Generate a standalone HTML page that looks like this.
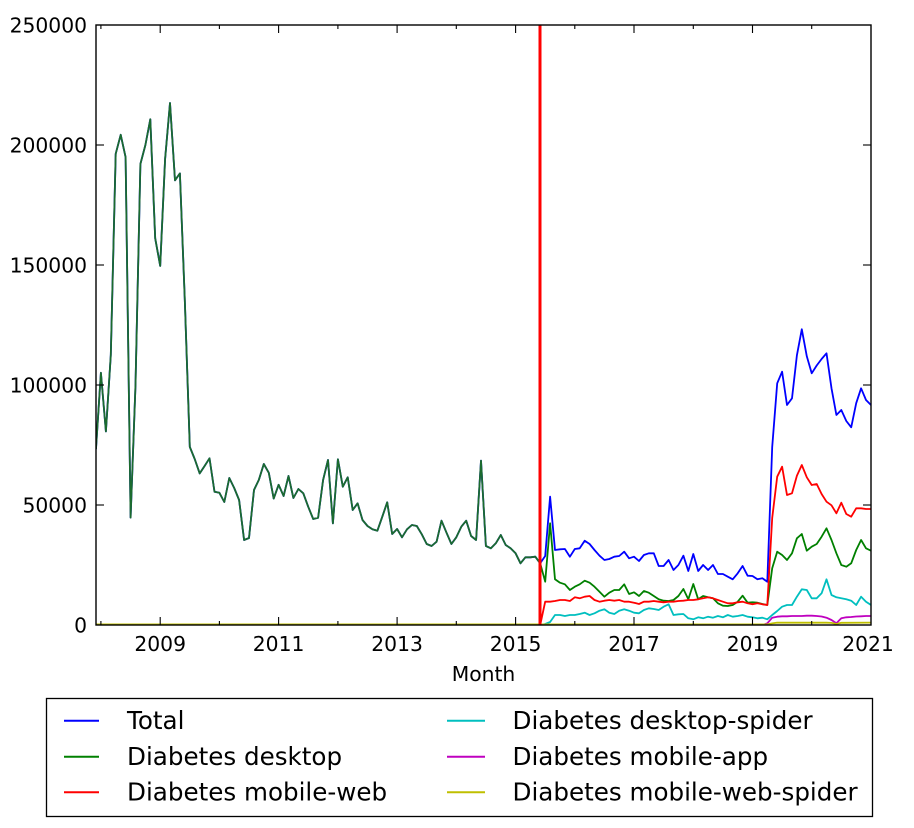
<!DOCTYPE html>
<html>
<head>
<meta charset="utf-8">
<style>
  html, body { margin: 0; padding: 0; background: #ffffff; }
  svg { display: block; }
  text { font-family: "DejaVu Sans", "Liberation Sans", sans-serif; fill: #000; }
  .tick { font-size: 20.3px; }
  .leg { font-size: 24.6px; }
</style>
</head>
<body>
<svg width="914" height="828" viewBox="0 0 914 828" xmlns="http://www.w3.org/2000/svg">
  <rect x="0" y="0" width="914" height="828" fill="#ffffff"/>
  <defs>
    <clipPath id="plot">
      <rect x="96" y="25" width="775" height="600"/>
    </clipPath>
  </defs>

  <g clip-path="url(#plot)" fill="none" stroke-width="1.8" stroke-linejoin="round" stroke-linecap="round">
    <!-- Total (blue) -->
    <polyline stroke="#0000ff" points="96,448.6 100.9,372.8 105.9,431.4 110.8,355 115.7,153.8 120.7,134.8 125.6,157.2 130.6,517.6 135.5,385 140.4,164 145.4,145 150.3,119.3 155.2,238.3 160.2,265.9 165.1,159 170,103 175,180.3 179.9,173.4 184.8,300 189.8,446.9 194.7,459 199.7,473.4 204.6,466 209.5,458.3 214.5,491.7 219.4,492.8 224.3,502 229.3,478 234.2,488 239.1,500 244.1,540 249,538 254,490 258.9,479.7 263.8,464 268.8,472.8 273.7,498.6 278.6,484.8 283.6,496 288.5,476 293.4,498 298.4,489 303.3,493.3 308.2,506.7 313.2,519 318.1,517.7 323.1,480 328,460 332.9,523.3 337.9,459.3 342.8,486.7 347.7,477.3 352.7,510 357.6,503.3 362.5,520 367.5,526 372.4,529.3 377.4,530.7 382.3,516.7 387.2,502.3 392.2,534 397.1,529 402,537.3 407,529.3 411.9,525 416.8,526 421.8,534.3 426.7,544 431.6,546 436.6,541.7 441.5,520.7 446.5,532.7 451.4,544 456.3,537.3 461.3,526.7 466.2,520.7 471.1,536 476.1,540 481,460.7 485.9,546 490.9,548.3 495.8,543.3 500.8,535 505.7,545 510.6,548.3 515.6,553.3 520.5,563.3 525.4,557.3 530.4,557.3 535.3,556.7 540.2,563.3 545.2,556 550.1,496.7 555,550 560,549.3 564.9,549 569.9,556.7 574.8,549 579.7,548.3 584.7,540.7 589.6,544 594.5,550 599.5,555.7 604.4,560 609.3,559 614.3,556.7 619.2,556 624.2,551.7 629.1,558.3 634,556.7 639,561 643.9,555 648.8,553.3 653.8,553.3 658.7,566 663.6,566 668.6,560 673.5,570 678.4,565 683.4,555.7 688.3,571 693.3,554 698.2,571 703.1,565 708.1,570 713,565 717.9,574 722.9,574 727.8,576.7 732.7,579.3 737.7,573.3 742.6,566 747.6,575.7 752.5,576 757.4,579.3 762.4,578.3 767.3,581.7 772.2,447 777.2,383.3 782.1,371.7 787,405 792,398.3 796.9,355.3 801.8,329.3 806.8,356.3 811.7,373.3 816.7,365.5 821.6,359 826.5,353.3 831.5,388.3 836.4,415 841.3,410 846.3,421 851.2,427.3 856.2,403.2 861.1,388.3 866,400 871,405"/>
    <!-- Diabetes desktop (green) pre-2015 overlapping Total -->
    <polyline stroke="#1b6b2e" points="96,448.6 100.9,372.8 105.9,431.4 110.8,355 115.7,153.8 120.7,134.8 125.6,157.2 130.6,517.6 135.5,385 140.4,164 145.4,145 150.3,119.3 155.2,238.3 160.2,265.9 165.1,159 170,103 175,180.3 179.9,173.4 184.8,300 189.8,446.9 194.7,459 199.7,473.4 204.6,466 209.5,458.3 214.5,491.7 219.4,492.8 224.3,502 229.3,478 234.2,488 239.1,500 244.1,540 249,538 254,490 258.9,479.7 263.8,464 268.8,472.8 273.7,498.6 278.6,484.8 283.6,496 288.5,476 293.4,498 298.4,489 303.3,493.3 308.2,506.7 313.2,519 318.1,517.7 323.1,480 328,460 332.9,523.3 337.9,459.3 342.8,486.7 347.7,477.3 352.7,510 357.6,503.3 362.5,520 367.5,526 372.4,529.3 377.4,530.7 382.3,516.7 387.2,502.3 392.2,534 397.1,529 402,537.3 407,529.3 411.9,525 416.8,526 421.8,534.3 426.7,544 431.6,546 436.6,541.7 441.5,520.7 446.5,532.7 451.4,544 456.3,537.3 461.3,526.7 466.2,520.7 471.1,536 476.1,540 481,460.7 485.9,546 490.9,548.3 495.8,543.3 500.8,535 505.7,545 510.6,548.3 515.6,553.3 520.5,563.3 525.4,557.3 530.4,557.3 535.3,556.7 540.2,563.3"/>
    <!-- Diabetes desktop (green) post-2015 -->
    <polyline stroke="#008000" points="540.2,563.3 545.2,581.7 550.1,523.3 555,579.3 560,582.7 564.9,584.3 569.9,590 574.8,586.7 579.7,584.3 584.7,580.7 589.6,582.7 594.5,586.7 599.5,591.7 604.4,596.7 609.3,592.7 614.3,590 619.2,590 624.2,584.3 629.1,594 634,592.3 639,596 643.9,591 648.8,592.7 653.8,596 658.7,599.3 663.6,600.7 668.6,601 673.5,600 678.4,596 683.4,589 688.3,599.3 693.3,584 698.2,599.3 703.1,596 708.1,597.3 713,598.3 717.9,603.3 722.9,605.7 727.8,606 732.7,605 737.7,601.7 742.6,595.7 747.6,602.7 752.5,602.3 757.4,602.7 762.4,604 767.3,605 772.2,568.3 777.2,551.7 782.1,555 787,560 792,553.3 796.9,538.3 801.8,534 806.8,550.7 811.7,546.7 816.7,544 821.6,536.7 826.5,528.3 831.5,540 836.4,553.3 841.3,565 846.3,566.7 851.2,563.3 856.2,550 861.1,540 866,548.3 871,550.7"/>
    <!-- Diabetes mobile-web (red) -->
    <polyline stroke="#ff0000" points="96,625 540.2,625 545.2,601.7 550.1,601.7 555,601 560,600 564.9,600 569.9,601 574.8,597.3 579.7,598.3 584.7,596.7 589.6,596 594.5,600 599.5,601.7 604.4,600.7 609.3,600 614.3,600.7 619.2,600 624.2,601.7 629.1,601.7 634,602.7 639,604 643.9,601.7 648.8,601.7 653.8,601 658.7,601.7 663.6,602.3 668.6,601.7 673.5,601.7 678.4,601 683.4,600.7 688.3,600 693.3,600 698.2,599.3 703.1,598.3 708.1,597.3 713,598.3 717.9,600 722.9,601.7 727.8,603.3 732.7,603.3 737.7,602.3 742.6,601.7 747.6,603.3 752.5,604.3 757.4,603.3 762.4,604.3 767.3,605 772.2,518 777.2,476.7 782.1,466.7 787,495 792,493.3 796.9,475.7 801.8,465 806.8,477.3 811.7,485 816.7,484 821.6,494 826.5,501.7 831.5,505.3 836.4,513.3 841.3,502.7 846.3,514 851.2,516.7 856.2,508.3 861.1,508.3 866,509 871,509"/>
    <!-- Diabetes desktop-spider (cyan) -->
    <polyline stroke="#00bfbf" points="96,625 540.2,625 545.2,624 550.1,622 555,615 560,615 564.9,616 569.9,615 574.8,615 579.7,614 584.7,612.7 589.6,615 594.5,613.3 599.5,610.7 604.4,609.3 609.3,612.7 614.3,614 619.2,610.7 624.2,609.3 629.1,610.7 634,612.7 639,613.3 643.9,610 648.8,608.3 653.8,609 658.7,610 663.6,606.7 668.6,604.3 673.5,615 678.4,614.3 683.4,614 688.3,618.3 693.3,619.3 698.2,617.3 703.1,618.3 708.1,616.7 713,617.7 717.9,616 722.9,617.3 727.8,615 732.7,616.7 737.7,616 742.6,615 747.6,616.7 752.5,617.3 757.4,618.3 762.4,617.7 767.3,619.3 772.2,615 777.2,611 782.1,606.7 787,605 792,605 796.9,596.7 801.8,589.3 806.8,590 811.7,598.3 816.7,598.3 821.6,593.3 826.5,579.3 831.5,595 836.4,597.3 841.3,598.3 846.3,599.3 851.2,600.7 856.2,605 861.1,596.7 866,601.7 871,605"/>
    <!-- Diabetes mobile-app (magenta) -->
    <polyline stroke="#bf00bf" points="96,625 762.4,625 767.3,623.3 772.2,617.7 777.2,616.7 782.1,616.3 787,616.3 792,616 796.9,616 801.8,616 806.8,615.7 811.7,615.7 816.7,616 821.6,616.5 826.5,617.7 831.5,620 836.4,623.3 841.3,618.3 846.3,617.3 851.2,617 856.2,616.5 861.1,616.3 866,616 871,616"/>
    <!-- Diabetes mobile-web-spider (yellow) -->
    <polyline stroke="#bfbf00" points="96,624.4 767.3,624.4 772.2,623.4 777.2,622.6 826.5,622.7 831.5,622.9 836.4,624 841.3,622.8 871,622.6"/>
  </g>

  <!-- vertical marker -->
  <line x1="540" y1="25" x2="540" y2="625" stroke="#ff0000" stroke-width="3"/>

  <!-- axes frame -->
  <rect x="96" y="25" width="775" height="600" fill="none" stroke="#000" stroke-width="1.4"/>

  <!-- ticks -->
  <g stroke="#000" stroke-width="1.1">
    <line x1="96" y1="145" x2="104" y2="145"/><line x1="871" y1="145" x2="863" y2="145"/>
    <line x1="96" y1="265" x2="104" y2="265"/><line x1="871" y1="265" x2="863" y2="265"/>
    <line x1="96" y1="385" x2="104" y2="385"/><line x1="871" y1="385" x2="863" y2="385"/>
    <line x1="96" y1="505" x2="104" y2="505"/><line x1="871" y1="505" x2="863" y2="505"/>
    <line x1="160.2" y1="625" x2="160.2" y2="617"/><line x1="160.2" y1="25" x2="160.2" y2="33"/>
    <line x1="278.6" y1="625" x2="278.6" y2="617"/><line x1="278.6" y1="25" x2="278.6" y2="33"/>
    <line x1="397.1" y1="625" x2="397.1" y2="617"/><line x1="397.1" y1="25" x2="397.1" y2="33"/>
    <line x1="515.6" y1="625" x2="515.6" y2="617"/><line x1="515.6" y1="25" x2="515.6" y2="33"/>
    <line x1="634" y1="625" x2="634" y2="617"/><line x1="634" y1="25" x2="634" y2="33"/>
    <line x1="752.5" y1="625" x2="752.5" y2="617"/><line x1="752.5" y1="25" x2="752.5" y2="33"/>
    <line x1="100.9" y1="625" x2="100.9" y2="621"/><line x1="100.9" y1="25" x2="100.9" y2="29"/>
    <line x1="219.4" y1="625" x2="219.4" y2="621"/><line x1="219.4" y1="25" x2="219.4" y2="29"/>
    <line x1="337.9" y1="625" x2="337.9" y2="621"/><line x1="337.9" y1="25" x2="337.9" y2="29"/>
    <line x1="456.3" y1="625" x2="456.3" y2="621"/><line x1="456.3" y1="25" x2="456.3" y2="29"/>
    <line x1="574.8" y1="625" x2="574.8" y2="621"/><line x1="574.8" y1="25" x2="574.8" y2="29"/>
    <line x1="693.3" y1="625" x2="693.3" y2="621"/><line x1="693.3" y1="25" x2="693.3" y2="29"/>
    <line x1="811.7" y1="625" x2="811.7" y2="621"/><line x1="811.7" y1="25" x2="811.7" y2="29"/>
  </g>

  <!-- y tick labels -->
  <g text-anchor="end">
    <text x="87" y="32.3" class="tick">250000</text>
    <text x="87" y="152.3" class="tick">200000</text>
    <text x="87" y="272.3" class="tick">150000</text>
    <text x="87" y="392.3" class="tick">100000</text>
    <text x="87" y="512.3" class="tick">50000</text>
    <text x="87" y="632.3" class="tick">0</text>
  </g>

  <!-- x tick labels -->
  <g text-anchor="middle">
    <text x="160.2" y="651" class="tick">2009</text>
    <text x="278.6" y="651" class="tick">2011</text>
    <text x="397.1" y="651" class="tick">2013</text>
    <text x="515.6" y="651" class="tick">2015</text>
    <text x="634" y="651" class="tick">2017</text>
    <text x="752.5" y="651" class="tick">2019</text>
    <text x="868" y="651" class="tick">2021</text>
    <text x="483.5" y="681" class="tick">Month</text>
  </g>

  <!-- legend -->
  <rect x="46.5" y="698.5" width="826" height="118" fill="#fff" stroke="#000" stroke-width="1.3"/>
  <g stroke-width="2">
    <line x1="64" y1="720.7" x2="99" y2="720.7" stroke="#0000ff"/>
    <line x1="64" y1="756.7" x2="99" y2="756.7" stroke="#008000"/>
    <line x1="64" y1="792.3" x2="99" y2="792.3" stroke="#ff0000"/>
    <line x1="447" y1="720.7" x2="485" y2="720.7" stroke="#00bfbf"/>
    <line x1="447" y1="756.7" x2="485" y2="756.7" stroke="#bf00bf"/>
    <line x1="447" y1="792.3" x2="485" y2="792.3" stroke="#bfbf00"/>
  </g>
  <text x="127" y="728.8" class="leg">Total</text>
  <text x="127" y="764.8" class="leg">Diabetes desktop</text>
  <text x="127" y="800.4" class="leg">Diabetes mobile-web</text>
  <text x="512.5" y="728.8" class="leg">Diabetes desktop-spider</text>
  <text x="512.5" y="764.8" class="leg">Diabetes mobile-app</text>
  <text x="512.5" y="800.4" class="leg">Diabetes mobile-web-spider</text>
</svg>
</body>
</html>
